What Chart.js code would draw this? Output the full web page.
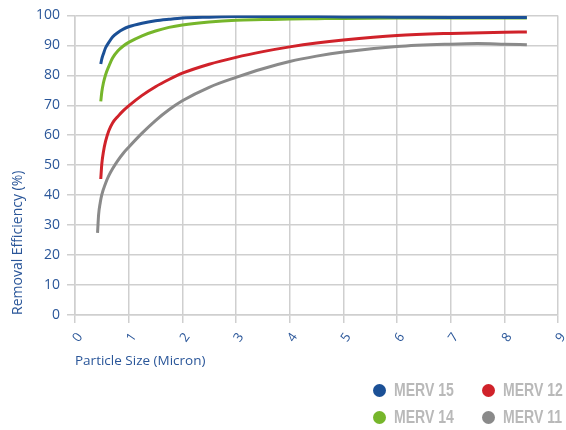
<!DOCTYPE html>
<html>
<head>
<meta charset="utf-8">
<script src="https://cdn.jsdelivr.net/npm/chart.js@4"></script>
<style>
  body { margin: 0; background: #fff; }
  .wrap { position: relative; width: 566px; height: 430px; }
  .legend {
    position: absolute; left: 373px; top: 380px;
    display: grid; grid-template-columns: 109px 90px; row-gap: 7px;
    font-family: "Liberation Sans", Arial, sans-serif;
    font-weight: bold; font-size: 18px; color: #b9b9b9; white-space: nowrap;
  }
  .legend span.item { display: flex; align-items: center; height: 20px; }
  .legend span.dot { width: 13px; height: 13px; border-radius: 50%; margin-right: 8px; flex: none; }
  .legend span.txt { display: inline-block; transform: scaleX(0.78); transform-origin: left center; }
</style>
</head>
<body>
<div class="wrap">
  <canvas id="chartMerv" width="566" height="430"></canvas>
  <div class="legend" id="legend"></div>
</div>
<script>
// DATA: efisiensi vs ukuran partikel (micron)
const sizes = [0.48, 0.5, 0.53, 0.57, 0.63, 0.7, 0.8, 0.9, 1, 1.25, 1.5, 1.75, 2, 2.5, 3, 3.5, 4, 4.5, 5, 6, 7, 8, 8.42];
const sizesMerv11 = [0.42, 0.44, 0.47, 0.5, 0.57, 0.63, 0.7, 0.8, 0.9, 1, 1.25, 1.5, 1.75, 2, 2.5, 3, 3.5, 4, 4.5, 5, 6, 7, 7.5, 8, 8.42];

const merv15 = [83.8, 85.5, 87.2, 89.2, 91, 92.8, 94.3, 95.4, 96.2, 97.4, 98.2, 98.7, 99.1, 99.4, 99.6, 99.6, 99.6, 99.6, 99.5, 99.4, 99.3, 99.3, 99.3];
const merv14 = [71.3, 74.5, 77.5, 80.2, 83, 85.8, 88.2, 89.8, 91, 93.2, 94.8, 96, 96.8, 97.8, 98.4, 98.6, 98.8, 98.9, 99, 99.1, 99.1, 99.1, 99.1];
const merv12 = [45.4, 50.5, 54.5, 58, 61.5, 64.1, 66.3, 68.2, 69.8, 73.3, 76.2, 78.6, 80.7, 83.7, 86, 87.9, 89.5, 90.8, 91.8, 93.3, 94, 94.4, 94.5];
const merv11 = [27.4, 33.5, 37.5, 40.2, 44, 46.5, 48.8, 51.6, 54, 56, 60.7, 64.9, 68.5, 71.5, 76, 79.3, 82.2, 84.6, 86.4, 87.8, 89.6, 90.4, 90.6, 90.4, 90.2];

const xTicks = [0, 1, 2, 3, 4, 5, 6, 7, 8, 9];
const yTicks = [0, 10, 20, 30, 40, 50, 60, 70, 80, 90, 100];

const blueText = '#2a5699';
const gridColor = '#cfcfcf';

function toPoints(xs, ys) {
    return ys.map((y, i) => ({ x: xs[i], y: y }));
}

// urutan legend: baris 1 MERV 15, MERV 12; baris 2 MERV 14, MERV 11
const series = [
    { label: 'MERV 15', xs: sizes, ys: merv15, color: '#1b5096' },
    { label: 'MERV 12', xs: sizes, ys: merv12, color: '#d0222a' },
    { label: 'MERV 14', xs: sizes, ys: merv14, color: '#76b62b' },
    { label: 'MERV 11', xs: sizesMerv11, ys: merv11, color: '#8a8a8a' }
];

const ctx = document.getElementById('chartMerv');

new Chart(ctx, {
    type: 'line',
    data: {
        datasets: series.map(s => ({
            label: s.label,
            data: toPoints(s.xs, s.ys),
            borderColor: s.color,
            backgroundColor: s.color,
            borderWidth: 3,
            pointRadius: 0,
            cubicInterpolationMode: 'monotone',
            fill: false
        }))
    },
    options: {
        responsive: false,
        animation: false,
        layout: { padding: { left: 6, top: 15, right: 8, bottom: 60 } },
        scales: {
            x: {
                type: 'linear',
                min: 0, max: 9,
                afterBuildTicks: axis => { axis.ticks = xTicks.map(v => ({ value: v })); },
                afterFit: axis => { axis.height = 55; axis.paddingLeft = 0; axis.paddingRight = 0; },
                grid: { color: gridColor, lineWidth: 1.5, tickLength: 8 },
                border: { color: gridColor, width: 1.5 },
                ticks: {
                    color: blueText,
                    font: { family: 'Open Sans', size: 13 },
                    minRotation: 55, maxRotation: 55,
                    padding: 7,
                    labelOffset: 5
                },
                title: {
                    display: true,
                    text: 'Particle Size (Micron)',
                    align: 'start',
                    color: blueText,
                    font: { family: 'Open Sans', size: 13.5 },
                    padding: { top: 0, bottom: 1 }
                }
            },
            y: {
                min: 0, max: 100,
                afterBuildTicks: axis => { axis.ticks = yTicks.map(v => ({ value: v })); },
                afterFit: axis => { axis.width = 69; },
                grid: { color: gridColor, lineWidth: 1.5, tickLength: 8 },
                border: { color: gridColor, width: 1.5 },
                ticks: {
                    color: blueText,
                    font: { family: 'Open Sans', size: 14 },
                    padding: 7
                },
                title: {
                    display: true,
                    text: 'Removal Efficiency (%)',
                    align: 'start',
                    color: blueText,
                    font: { family: 'Open Sans', size: 14 },
                    padding: { top: 4, bottom: 0 }
                }
            }
        },
        plugins: {
            legend: { display: false },
            tooltip: { enabled: false }
        }
    }
});

// LEGEND HTML
const legendBox = document.getElementById('legend');
series.forEach(s => {
    const item = document.createElement('span');
    item.className = 'item';
    const dot = document.createElement('span');
    dot.className = 'dot';
    dot.style.background = s.color;
    const txt = document.createElement('span');
    txt.className = 'txt';
    txt.textContent = s.label;
    item.appendChild(dot);
    item.appendChild(txt);
    legendBox.appendChild(item);
});
</script>
</body>
</html>
